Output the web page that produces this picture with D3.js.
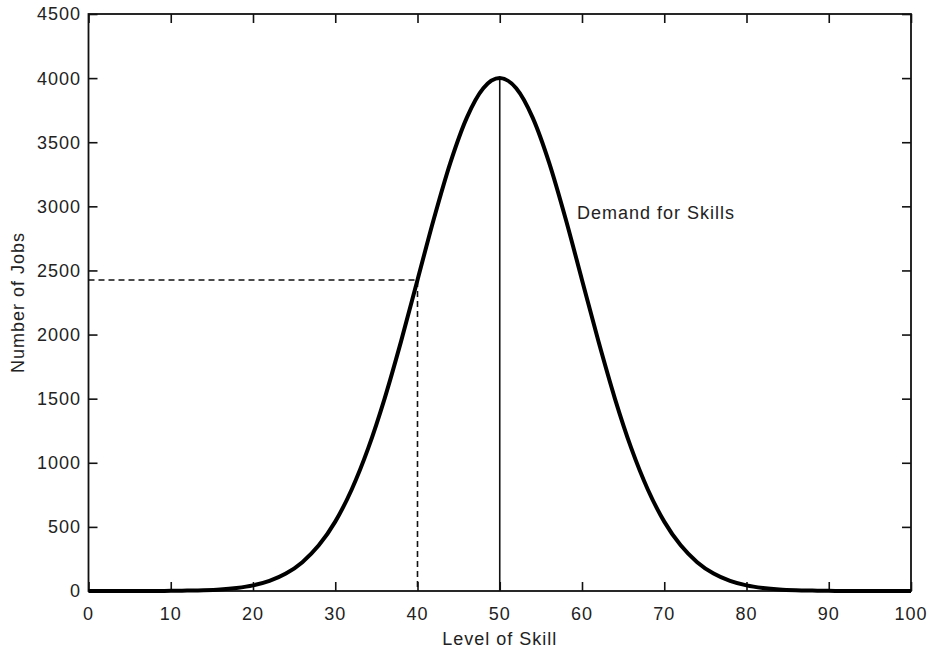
<!DOCTYPE html>
<html>
<head>
<meta charset="utf-8">
<script src="https://cdn.jsdelivr.net/npm/d3@7"></script>
<style>
  html, body { margin: 0; padding: 0; background: #fff; }
  text { font-family: Arial, "Liberation Sans", sans-serif; fill: #222; letter-spacing: 1px; }
</style>
</head>
<body>
<svg id="chart" width="930" height="648"></svg>
<script>
// Skill levels (x) and number of jobs (y)
const skillLevels = [0,2,4,6,8,10,12,14,16,18,20,22,24,26,28,30,32,34,36,38,40,42,44,46,48,50,
  52,54,56,58,60,62,64,66,68,70,72,74,76,78,80,82,84,86,88,90,92,94,96,98,100];
const jobs = [0,0,0,0,0,1,3,6,12,24,44,79,136,225,356,541,792,1112,1501,1947,2426,2905,3341,3692,3921,4000,
  3921,3692,3341,2905,2426,1947,1501,1112,792,541,356,225,136,79,44,24,12,6,3,1,0,0,0,0,0];
const xTicks = [0,10,20,30,40,50,60,70,80,90,100];
const yTicks = [0,500,1000,1500,2000,2500,3000,3500,4000,4500];
const markedSkill = 40;
const markedJobs = 2426;
const peakSkill = 50;
const peakJobs = 4000;
const curveLabel = "Demand for Skills";
const xTitle = "Level of Skill";
const yTitle = "Number of Jobs";

const svg = d3.select("#chart");
const L = 88.5, R = 911, T = 14, B = 591;
const x = d3.scaleLinear().domain([0, 100]).range([L, R]);
const y = d3.scaleLinear().domain([0, 4500]).range([B, T]);
const tickLen = 9;

// axes (ticks inward)
const gx = svg.append("g").attr("transform", `translate(0,${B})`)
  .call(d3.axisTop(x).tickValues(xTicks).tickSize(tickLen).tickFormat(""));
const gxt = svg.append("g").attr("transform", `translate(0,${T})`)
  .call(d3.axisBottom(x).tickValues(xTicks).tickSize(tickLen).tickFormat(""));
const gy = svg.append("g").attr("transform", `translate(${L},0)`)
  .call(d3.axisRight(y).tickValues(yTicks).tickSize(tickLen).tickFormat(""));
const gyr = svg.append("g").attr("transform", `translate(${R},0)`)
  .call(d3.axisLeft(y).tickValues(yTicks).tickSize(tickLen).tickFormat(""));
[gx, gxt, gy, gyr].forEach(g => {
  g.select(".domain").remove();
  g.selectAll(".tick line").attr("stroke", "#111").attr("stroke-width", 1.6);
});

// tick labels
svg.append("g").selectAll("text").data(xTicks).join("text")
  .attr("x", d => x(d)).attr("y", 620)
  .attr("text-anchor", "middle").attr("font-size", 18)
  .text(d => d);
svg.append("g").selectAll("text").data(yTicks).join("text")
  .attr("x", 81).attr("y", d => y(d)).attr("dy", "0.36em")
  .attr("text-anchor", "end").attr("font-size", 18)
  .text(d => d);

// frame
svg.append("rect").attr("x", L).attr("y", T).attr("width", R - L).attr("height", B - T)
  .attr("fill", "none").attr("stroke", "#111").attr("stroke-width", 1.8);

// dashed guide lines
svg.append("path")
  .attr("d", d3.line()([[x(0), y(markedJobs)], [x(markedSkill), y(markedJobs)], [x(markedSkill), y(0)]]))
  .attr("fill", "none").attr("stroke", "#111").attr("stroke-width", 1.6)
  .attr("stroke-dasharray", "6,4");

// vertical line at peak
svg.append("line")
  .attr("x1", x(peakSkill)).attr("x2", x(peakSkill))
  .attr("y1", y(0)).attr("y2", y(peakJobs))
  .attr("stroke", "#111").attr("stroke-width", 1.6);

// curve
const pts = skillLevels.map((s, i) => [s, jobs[i]]);
svg.append("path").datum(pts)
  .attr("d", d3.line().x(d => x(d[0])).y(d => y(d[1])).curve(d3.curveMonotoneX))
  .attr("fill", "none").attr("stroke", "#000").attr("stroke-width", 4)
  .attr("stroke-linejoin", "round");

// labels
svg.append("text").attr("x", 577).attr("y", 219).attr("font-size", 18).text(curveLabel);
svg.append("text").attr("x", (L + R) / 2).attr("y", 645)
  .attr("text-anchor", "middle").attr("font-size", 18).text(xTitle);
svg.append("text")
  .attr("transform", `translate(24,${(T + B) / 2}) rotate(-90)`)
  .attr("text-anchor", "middle").attr("font-size", 18).text(yTitle);
</script>
</body>
</html>
